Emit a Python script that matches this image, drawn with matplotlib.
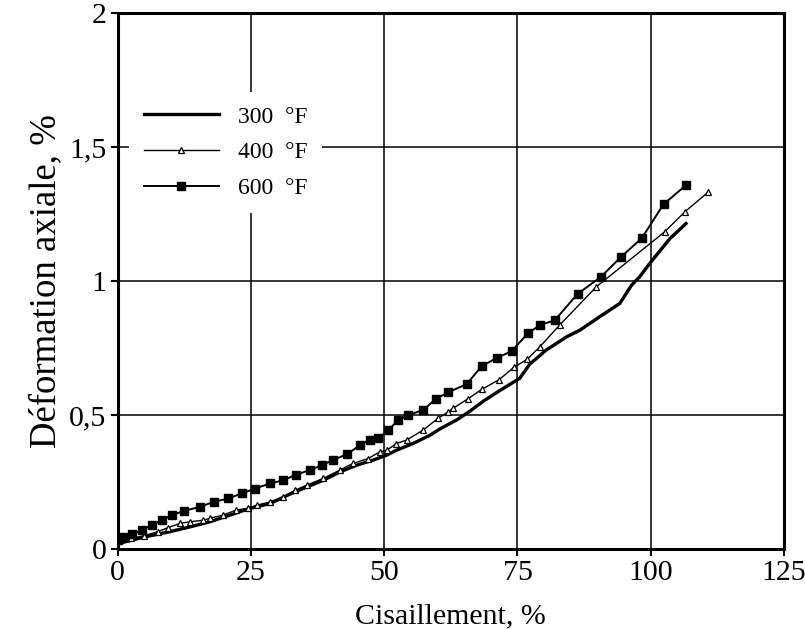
import numpy as np
import matplotlib
matplotlib.use("Agg")
import matplotlib.pyplot as plt
from matplotlib.ticker import FuncFormatter

plt.rcParams['font.family'] = ['Liberation Serif', 'DejaVu Serif']

# 300 °F (trait épais, sans marqueurs)
x300 = [0, 2, 5, 9.8, 13.6, 17.3, 21.1, 24.8, 28.6, 32.3, 35.5, 38.6, 41.7, 44.8,
        47.9, 50.5, 52.3, 55.4, 58.6, 60.4, 63.6, 66.1, 68.6, 71.7, 75.4, 77.3,
        80.4, 84.2, 86.7, 90.4, 94.2, 96.4, 97.9, 99.8, 103.6, 106.6]
y300 = [0.02, 0.03, 0.045, 0.065, 0.083, 0.102, 0.127, 0.152, 0.17, 0.205, 0.232,
        0.257, 0.288, 0.313, 0.332, 0.351, 0.369, 0.394, 0.425, 0.448, 0.482, 0.515,
        0.552, 0.592, 0.637, 0.69, 0.743, 0.792, 0.817, 0.867, 0.917, 0.985, 1.016,
        1.066, 1.159, 1.215]

# 400 °F (triangles)
x400 = [0, 2.5, 5, 7.5, 9.5, 11.7, 13.6, 16.1, 17.3, 19.8, 22.3, 24.5, 26.1, 28.6,
        31.1, 33.3, 35.5, 38.6, 41.7, 44.2, 47.0, 49.2, 50.5, 52.3, 54.2, 57.3, 60.1,
        62.0, 62.9, 65.8, 68.3, 71.6, 74.3, 76.8, 79.2, 82.9, 89.8, 102.6, 106.4, 110.8]
y400 = [0.03, 0.04, 0.05, 0.065, 0.08, 0.096, 0.102, 0.108, 0.115, 0.127, 0.146,
        0.152, 0.164, 0.176, 0.195, 0.22, 0.239, 0.264, 0.295, 0.32, 0.338, 0.363,
        0.369, 0.394, 0.407, 0.444, 0.488, 0.512, 0.525, 0.562, 0.596, 0.633, 0.678,
        0.708, 0.755, 0.836, 0.979, 1.184, 1.259, 1.333]

# 600 °F (carrés pleins)
x600 = [0, 1, 2.7, 4.5, 6.4, 8.3, 10.2, 12.5, 15.5, 18.0, 20.8, 23.3, 25.8, 28.6,
        31.1, 33.5, 36.1, 38.3, 40.4, 43.0, 45.5, 47.3, 48.9, 50.8, 52.6, 54.5, 57.3,
        59.8, 62.0, 65.5, 68.3, 71.1, 73.9, 77.0, 79.2, 82.0, 86.3, 90.6, 94.4, 98.3,
        102.4, 106.6]
y600 = [0.035, 0.045, 0.055, 0.07, 0.09, 0.108, 0.127, 0.143, 0.158, 0.176, 0.189,
        0.208, 0.226, 0.245, 0.257, 0.278, 0.295, 0.313, 0.332, 0.354, 0.388, 0.409,
        0.413, 0.444, 0.481, 0.5, 0.519, 0.562, 0.585, 0.616, 0.683, 0.713, 0.739,
        0.806, 0.836, 0.854, 0.953, 1.015, 1.09, 1.16, 1.287, 1.358]

labels = ["300  °F", "400  °F", "600  °F"]
xticks = [0, 25, 50, 75, 100, 125]
yticks = [0, 0.5, 1, 1.5, 2]

fig = plt.figure(figsize=(8.05, 6.29), dpi=100)
ax = fig.add_axes([0.146, 0.127, 0.828, 0.852])

ax.plot(x300, y300, color='black', lw=2.4, label=labels[0])
ax.plot(x400, y400, color='black', lw=1.0, marker='^', ms=4.5, mfc='white',
        mec='black', mew=0.9, label=labels[1])
ax.plot(x600, y600, color='black', lw=1.4, marker='s', ms=5.5, mfc='black',
        mec='black', label=labels[2])

ax.set_xlim(0, 125)
ax.set_ylim(0, 2)
ax.set_xticks(xticks)
ax.set_yticks(yticks)
ax.yaxis.set_major_formatter(FuncFormatter(lambda v, p: ('%g' % v).replace('.', ',')))
ax.grid(True, color='black', lw=1.1)
ax.set_axisbelow(True)
for sp in ax.spines.values():
    sp.set_linewidth(2.2)
ax.tick_params(direction='out', length=5, width=1.5, labelsize=21.5, pad=3)

ax.set_xlabel("Cisaillement, %", fontsize=21.5, labelpad=12)
ax.set_ylabel("Déformation axiale, %", fontsize=26.5, labelpad=4)

leg = ax.legend(loc='upper left', bbox_to_anchor=(0.0, 0.875), fontsize=17,
                handlelength=3.2, labelspacing=0.6, frameon=True, fancybox=False,
                framealpha=1, borderpad=0.6)
leg.get_frame().set_edgecolor('none')
leg.get_frame().set_facecolor('white')

fig.savefig("out.png", dpi=100)
